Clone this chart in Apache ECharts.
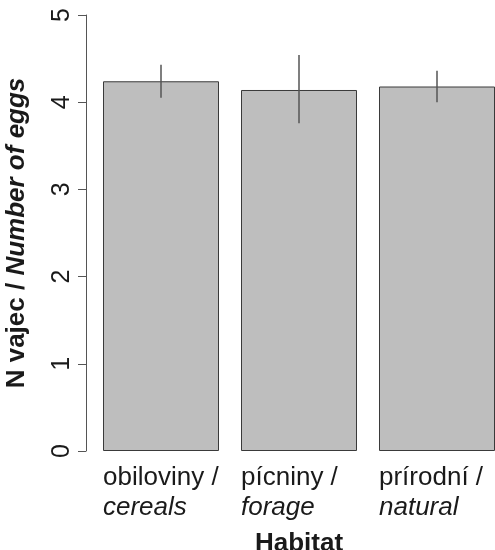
<!DOCTYPE html>
<html>
<head>
<meta charset="utf-8">
<script src="https://cdn.jsdelivr.net/npm/echarts@6/dist/echarts.min.js"></script>
<style>
  html, body { margin: 0; padding: 0; background: #ffffff; }
  #chart { width: 495px; height: 550px; }
</style>
</head>
<body>
<div id="chart"></div>
<script>
// Habitat categories: Czech name (upright) and English name (italic)
const habitatCz = ['obiloviny /', 'pícniny /', 'prírodní /'];
const habitatEn = ['cereals', 'forage', 'natural'];

// Mean number of eggs per habitat with error-bar bounds
const meanEggs = [4.24, 4.14, 4.18];
const errLow  = [4.05, 3.76, 4.00];
const errHigh = [4.43, 4.54, 4.36];

// y-axis ticks
const yTicks = [0, 1, 2, 3, 4, 5];

const FONT = '"Liberation Sans", Arial, Helvetica, sans-serif';
const chart = echarts.init(document.getElementById('chart'), null, { renderer: 'canvas' });

const errorData = habitatCz.map((c, i) => [i, errLow[i], errHigh[i]]);

chart.setOption({
  animation: false,
  backgroundColor: '#ffffff',
  grid: { left: 92, top: 15, width: 414, height: 436, containLabel: false, outerBoundsMode: 'none' },
  xAxis: {
    type: 'category',
    data: habitatCz,
    axisLine: { show: false },
    axisTick: { show: false },
    splitLine: { show: false },
    name: 'Habitat',
    nameLocation: 'middle',
    nameGap: 80,
    nameTextStyle: { fontFamily: FONT, fontSize: 26, fontWeight: 'bold', color: '#1a1a1a' },
    axisLabel: {
      interval: 0,
      margin: 12,
      width: 116,
      align: 'center',
      fontFamily: FONT,
      fontSize: 26,
      color: '#1a1a1a',
      formatter: (v, i) => '{a|' + habitatCz[i] + '}\n{b|' + habitatEn[i] + '}',
      rich: {
        a: { fontFamily: FONT, fontSize: 26, lineHeight: 30, align: 'left', color: '#1a1a1a' },
        b: { fontFamily: FONT, fontSize: 26, lineHeight: 30, fontStyle: 'italic', align: 'left', color: '#1a1a1a' }
      }
    }
  },
  yAxis: {
    type: 'value',
    min: yTicks[0],
    max: yTicks[yTicks.length - 1],
    interval: 1,
    offset: 6,
    axisLine: { show: true, lineStyle: { color: '#555555', width: 1 } },
    axisTick: { show: true, length: 8, lineStyle: { color: '#555555', width: 1 } },
    splitLine: { show: false },
    axisLabel: {
      rotate: 90,
      margin: 11,
      fontFamily: FONT,
      fontSize: 25,
      color: '#1a1a1a'
    },
    name: '{r|N vajec / }{i|Number of eggs}',
    nameLocation: 'middle',
    nameGap: 56,
    nameRotate: 90,
    nameTextStyle: {
      rich: {
        r: { fontFamily: FONT, fontSize: 26, fontWeight: 'bold', color: '#1a1a1a' },
        i: { fontFamily: FONT, fontSize: 26, fontWeight: 'bold', fontStyle: 'italic', color: '#1a1a1a' }
      }
    }
  },
  series: [
    {
      type: 'bar',
      data: meanEggs,
      barWidth: 116,
      itemStyle: { color: '#bebebe', borderColor: '#3a3a3a', borderWidth: 1 },
      emphasis: { disabled: true }
    },
    {
      type: 'custom',
      data: errorData,
      z: 5,
      renderItem: (params, api) => {
        const x = api.value(0);
        const p1 = api.coord([x, api.value(1)]);
        const p2 = api.coord([x, api.value(2)]);
        return {
          type: 'line',
          shape: { x1: p1[0], y1: p1[1], x2: p2[0], y2: p2[1] },
          style: { stroke: '#555555', lineWidth: 1.5 }
        };
      }
    }
  ]
});
</script>
</body>
</html>
